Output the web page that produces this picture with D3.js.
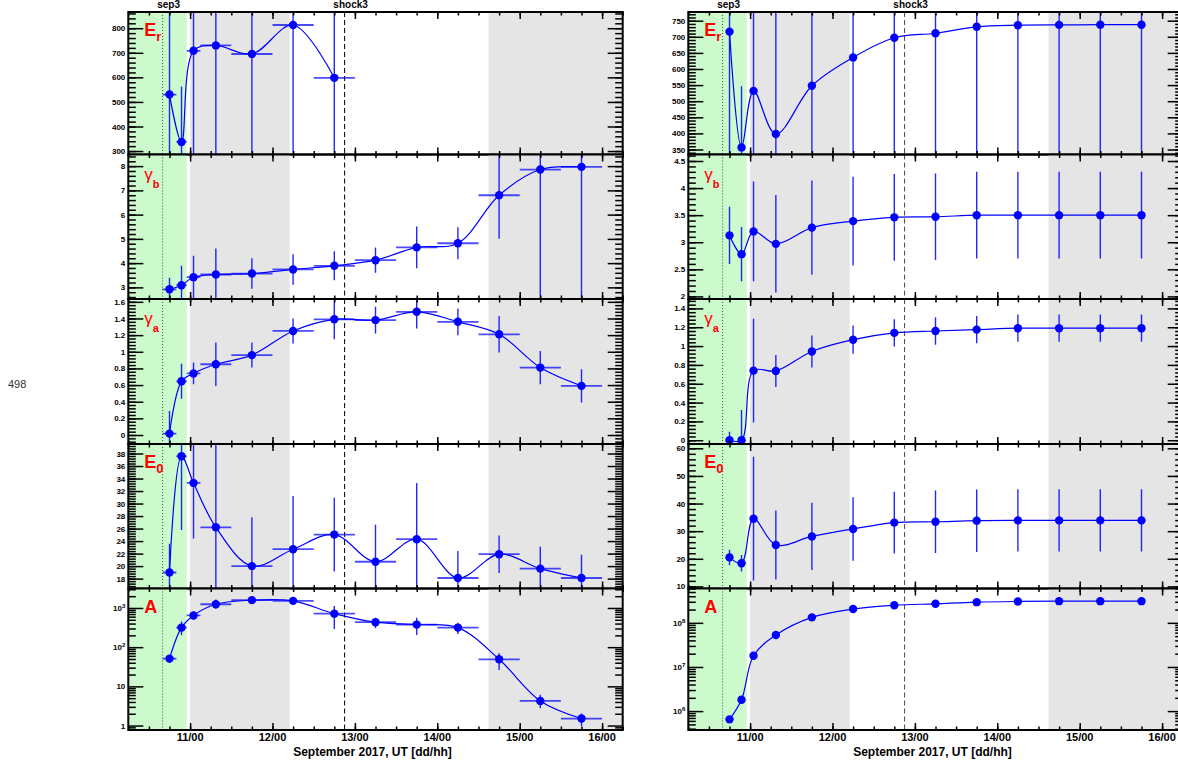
<!DOCTYPE html>
<html>
<head>
<meta charset="utf-8">
<script src="https://cdn.jsdelivr.net/npm/d3@7"></script>
<style>
  body { margin: 0; background: #fff; }
  svg { display: block; }
  text { font-family: "Liberation Sans", Arial, Helvetica, sans-serif; }
</style>
</head>
<body>
<div id="chart"></div>
<script>
// time bins, hours since 2017-09-10 00:00 UT
var binLo  = [16, 20, 23, 27, 36, 48, 60, 72, 84, 96, 108, 120, 132];
var binHi  = [20, 23, 27, 36, 48, 60, 72, 84, 96, 108, 120, 132, 144];
var binMid = [18, 21.5, 25, 31.5, 42, 54, 66, 78, 90, 102, 114, 126, 138];

// marked intervals / events (hours)
var greenSpan = [6, 23];
var graySpans = [[24, 53], [110.9, 150]];
var eventNames = ["sep3", "shock3"];
var eventHours = [16, 69];
var xRange = [6, 150];

// left column values
var erLeft    = [530, 337, 708, 730, 695, 813, 598];
var erLeftErr = [900, 226, 900, 900, 900, 900, 900];
var gbLeft    = [2.92, 3.09, 3.42, 3.53, 3.57, 3.74, 3.89, 4.12, 4.65, 4.82, 6.8, 7.86, 7.97];
var gbLeftErr = [0.48, 0.8, 0.88, 1.07, 0.63, 0.63, 0.6, 0.52, 0.86, 0.66, 1.8, 6, 6];
var gaLeft    = [0.017, 0.645, 0.74, 0.85, 0.96, 1.25, 1.39, 1.38, 1.48, 1.36, 1.21, 0.81, 0.59];
var gaLeftErr = [0.27, 0.21, 0.13, 0.26, 0.15, 0.15, 0.24, 0.16, 0.2, 0.16, 0.22, 0.2, 0.2];
var e0Left    = [18.98, 37.57, 33.3, 26.2, 20.0, 22.7, 25.04, 20.7, 24.3, 18.1, 21.9, 19.6, 18.1];
var e0LeftErr = [4.6, 11.8, 8.9, 14, 7.8, 8.5, 5.9, 5.9, 9, 4.3, 3, 3.5, 3.7];
var aLeft     = [51, 316, 646, 1243, 1585, 1520, 716, 434, 377, 316, 49, 4.25, 1.51];
var aLeftLo   = [40, 205, 500, 950, 1350, 1300, 290, 303, 205, 217, 26, 2.75, 0.98];
var aLeftHi   = [62, 453, 800, 1650, 1850, 1800, 1120, 562, 562, 417, 70, 6.1, 2.04];

// right column values
var erRight    = [716, 356.5, 532, 398, 548, 636, 697, 711, 731, 736, 737, 737.5, 737.5];
var erRightErr = [900, 190, 900, 900, 900, 900, 900, 900, 900, 900, 900, 900, 900];
var gbRight    = [3.127, 2.78, 3.2, 2.97, 3.27, 3.39, 3.46, 3.47, 3.5, 3.5, 3.5, 3.5, 3.5];
var gbRightErr = [0.53, 0.5, 0.92, 0.9, 0.87, 0.82, 0.8, 0.8, 0.8, 0.8, 0.8, 0.8, 0.8];
var gaRight    = [0, 0, 0.739, 0.735, 0.943, 1.068, 1.14, 1.16, 1.175, 1.19, 1.19, 1.19, 1.19];
var gaRightErr = [0.09, 0.32, 0.55, 0.17, 0.17, 0.15, 0.145, 0.145, 0.145, 0.145, 0.145, 0.145, 0.145];
var e0Right    = [20.5, 18.4, 34.5, 25.0, 28.1, 30.8, 33.1, 33.4, 33.8, 33.9, 33.9, 33.9, 33.9];
var e0RightErr = [2.8, 3, 22.4, 12.5, 12.2, 11.5, 11.2, 11.3, 11.3, 11.3, 11.3, 11.3, 11.3];
var aRight     = [6.5e5, 1.81e6, 1.79e7, 5.3e7, 1.33e8, 2.06e8, 2.5e8, 2.7e8, 2.94e8, 3.05e8, 3.1e8, 3.1e8, 3.1e8];

// axis ranges and tick labels
var erLeftDomain = [286, 866],   erLeftTicks = [300, 400, 500, 600, 700, 800];
var gbLeftDomain = [2.52, 8.48], gbLeftTicks = [3, 4, 5, 6, 7, 8];
var gaLeftDomain = [-0.108, 1.634], gaLeftTicks = [0, 0.2, 0.4, 0.6, 0.8, 1, 1.2, 1.4, 1.6];
var e0LeftDomain = [16.42, 39.52], e0LeftTicks = [18, 20, 22, 24, 26, 28, 30, 32, 34, 36, 38];
var aLeftDomain  = [0.77, 3140],  aLeftTicks = [1, 10, 100, 1000];

var erRightDomain = [334.5, 777],  erRightTicks = [350, 400, 450, 500, 550, 600, 650, 700, 750];
var gbRightDomain = [1.952, 4.62], gbRightTicks = [2, 2.5, 3, 3.5, 4, 4.5];
var gaRightDomain = [-0.04, 1.5],  gaRightTicks = [0, 0.2, 0.4, 0.6, 0.8, 1, 1.2, 1.4];
var e0RightDomain = [9.24, 61.56], e0RightTicks = [10, 20, 30, 40, 50, 60];
var aRightDomain  = [3.73e5, 6.0e8], aRightTicks = [1e6, 1e7, 1e8];

var xTitle = "September 2017, UT [dd/hh]";

// ---- layout ----
var W = 1178, H = 761;
var rowEdges = [12, 154.5, 299, 444, 588.5, 730];
var colX = [128.3, 688.3], colW = 494.4;
var blue = "#0000ff";

var svg = d3.select("#chart").append("svg").attr("width", W).attr("height", H);
var defs = svg.append("defs");

function toDate(h) { return new Date(Date.UTC(2017, 8, 10) + h * 3600e3); }

function sym(v, e) {
    return { lo: v.map((d, i) => d - e[i]), hi: v.map((d, i) => d + e[i]) };
}

var columns = [
    { xerr: true, panels: [
        { name: "E", sub: "r", v: erLeft, err: sym(erLeft, erLeftErr), dom: erLeftDomain, ticks: erLeftTicks, lab: "E" },
        { name: "\u03b3", sub: "b", v: gbLeft, err: sym(gbLeft, gbLeftErr), dom: gbLeftDomain, ticks: gbLeftTicks, lab: "g" },
        { name: "\u03b3", sub: "a", v: gaLeft, err: sym(gaLeft, gaLeftErr), dom: gaLeftDomain, ticks: gaLeftTicks, lab: "g" },
        { name: "E", sub: "0", v: e0Left, err: sym(e0Left, e0LeftErr), dom: e0LeftDomain, ticks: e0LeftTicks, lab: "E" },
        { name: "A", v: aLeft, err: { lo: aLeftLo, hi: aLeftHi }, dom: aLeftDomain, ticks: aLeftTicks, log: true, lab: "A" }
    ]},
    { xerr: false, panels: [
        { name: "E", sub: "r", v: erRight, err: sym(erRight, erRightErr), dom: erRightDomain, ticks: erRightTicks, lab: "E" },
        { name: "\u03b3", sub: "b", v: gbRight, err: sym(gbRight, gbRightErr), dom: gbRightDomain, ticks: gbRightTicks, lab: "g" },
        { name: "\u03b3", sub: "a", v: gaRight, err: sym(gaRight, gaRightErr), dom: gaRightDomain, ticks: gaRightTicks, lab: "g" },
        { name: "E", sub: "0", v: e0Right, err: sym(e0Right, e0RightErr), dom: e0RightDomain, ticks: e0RightTicks, lab: "E" },
        { name: "A", v: aRight, err: null, dom: aRightDomain, ticks: aRightTicks, log: true, lab: "A" }
    ]}
];

function minorTicks(p) {
    var out = [];
    if (p.log) {
        var k0 = Math.floor(Math.log10(p.dom[0])), k1 = Math.ceil(Math.log10(p.dom[1]));
        for (var k = k0; k <= k1; k++)
            for (var m = 2; m <= 9; m++) {
                var v = m * Math.pow(10, k);
                if (v >= p.dom[0] && v <= p.dom[1]) out.push(v);
            }
        return out;
    }
    var step = (p.ticks[1] - p.ticks[0]) / 5;
    var start = p.ticks[0] - Math.floor((p.ticks[0] - p.dom[0]) / step) * step;
    for (var t = start; t <= p.dom[1] + 1e-9; t += step) out.push(+t.toFixed(6));
    return out;
}

function styleAxis(sel, labels) {
    sel.select(".domain").remove();
    sel.selectAll("line").attr("stroke", "#000").attr("stroke-width", 1.5);
    if (!labels) sel.selectAll("text").remove();
}

columns.forEach(function (col, ci) {
    var x0 = colX[ci], x1 = x0 + colW;
    var x = d3.scaleUtc().domain([toDate(xRange[0]), toDate(xRange[1])]).range([x0, x1]);
    var dayTicks = d3.utcDay.range(toDate(xRange[0]), toDate(xRange[1]));
    var hourTicks = d3.utcHour.every(6).range(toDate(xRange[0]), toDate(xRange[1] + 0.01));
    var dayFmt = d3.utcFormat("%d/%H");

    col.panels.forEach(function (p, pi) {
        var top = rowEdges[pi], bottom = rowEdges[pi + 1];
        var g = svg.append("g");
        var y = (p.log ? d3.scaleLog() : d3.scaleLinear()).domain(p.dom).range([bottom, top]);
        var clipId = "clip-" + ci + "-" + pi;
        defs.append("clipPath").attr("id", clipId).append("rect")
            .attr("x", x0).attr("y", top).attr("width", x1 - x0).attr("height", bottom - top);

        var plot = g.append("g").attr("clip-path", "url(#" + clipId + ")");

        // shaded intervals
        plot.append("rect")
            .attr("x", x(toDate(greenSpan[0]))).attr("y", top)
            .attr("width", x(toDate(greenSpan[1])) - x(toDate(greenSpan[0])))
            .attr("height", bottom - top).attr("fill", "#ccfacc");
        graySpans.forEach(function (s) {
            plot.append("rect")
                .attr("x", x(toDate(s[0]))).attr("y", top)
                .attr("width", x(toDate(s[1])) - x(toDate(s[0])))
                .attr("height", bottom - top).attr("fill", "#e5e5e5");
        });

        // event lines
        eventHours.forEach(function (h, ei) {
            plot.append("line")
                .attr("x1", x(toDate(h))).attr("x2", x(toDate(h)))
                .attr("y1", top).attr("y2", bottom)
                .attr("stroke", ei === 0 ? "#2d5a2d" : (ci === 0 ? "#000" : "#444"))
                .attr("stroke-width", 1)
                .attr("stroke-dasharray", ei === 0 ? "1,2" : "5,3");
        });

        var pts = p.v.map(function (v, i) { return { h: binMid[i], v: v, i: i }; });

        // error bars
        if (p.err) {
            plot.selectAll(".ey").data(pts).enter().append("line")
                .attr("x1", d => x(toDate(d.h))).attr("x2", d => x(toDate(d.h)))
                .attr("y1", d => y(p.err.lo[d.i] > 0 || !p.log ? p.err.lo[d.i] : p.dom[0] / 10))
                .attr("y2", d => y(p.err.hi[d.i]))
                .attr("stroke", blue).attr("stroke-width", 1.4).attr("stroke-opacity", 0.85);
        }
        if (col.xerr) {
            plot.selectAll(".ex").data(pts).enter().append("line")
                .attr("x1", d => x(toDate(binLo[d.i]))).attr("x2", d => x(toDate(binHi[d.i])))
                .attr("y1", d => y(d.v)).attr("y2", d => y(d.v))
                .attr("stroke", blue).attr("stroke-width", 1.8).attr("stroke-opacity", 0.7);
        }

        // smooth curve through points
        var line = d3.line()
            .x(d => x(toDate(d.h)))
            .y(d => y(d.v))
            .curve(d3.curveCatmullRom.alpha(0.5));
        plot.append("path").datum(pts).attr("d", line)
            .attr("fill", "none").attr("stroke", blue).attr("stroke-width", 1.2);

        // markers
        g.selectAll(".pt").data(pts.filter(d => d.v >= p.dom[0] && d.v <= p.dom[1])).enter()
            .append("circle")
            .attr("cx", d => x(toDate(d.h))).attr("cy", d => y(d.v)).attr("r", 4.2)
            .attr("fill", blue);

        // frame
        g.append("rect").attr("x", x0).attr("y", top).attr("width", x1 - x0).attr("height", bottom - top)
            .attr("fill", "none").attr("stroke", "#000").attr("stroke-width", 2);

        // y axes (ticks inside frame)
        var fmt = p.log ? (d => "") : (d => String(+d.toFixed(2)));
        var yl = g.append("g").attr("transform", "translate(" + x0 + ",0)")
            .call(d3.axisLeft(y).tickValues(p.ticks).tickSize(-15).tickPadding(3).tickFormat(fmt));
        styleAxis(yl, true);
        yl.selectAll("text").attr("font-size", 8).attr("font-weight", "bold").attr("fill", "#000");
        if (p.log) {
            yl.selectAll(".tick text").each(function (d) {
                var t = d3.select(this);
                var k = Math.round(Math.log10(d));
                if (k < 2) { t.text(k === 0 ? "1" : "10"); return; }
                t.append("tspan").text("10");
                t.append("tspan").attr("dy", "-0.5em").attr("font-size", 6).text(k);
            });
        }
        styleAxis(g.append("g").attr("transform", "translate(" + x0 + ",0)")
            .call(d3.axisLeft(y).tickValues(minorTicks(p)).tickSize(-7.5).tickFormat("")), false);
        styleAxis(g.append("g").attr("transform", "translate(" + x1 + ",0)")
            .call(d3.axisRight(y).tickValues(p.ticks).tickSize(-15).tickFormat("")), false);
        styleAxis(g.append("g").attr("transform", "translate(" + x1 + ",0)")
            .call(d3.axisRight(y).tickValues(minorTicks(p)).tickSize(-7.5).tickFormat("")), false);

        // x axes (top and bottom of each panel)
        styleAxis(g.append("g").attr("transform", "translate(0," + top + ")")
            .call(d3.axisTop(x).tickValues(dayTicks).tickSize(-7).tickFormat("")), false);
        styleAxis(g.append("g").attr("transform", "translate(0," + top + ")")
            .call(d3.axisTop(x).tickValues(hourTicks).tickSize(-3.5).tickFormat("")), false);
        styleAxis(g.append("g").attr("transform", "translate(0," + bottom + ")")
            .call(d3.axisBottom(x).tickValues(hourTicks).tickSize(-3.5).tickFormat("")), false);
        styleAxis(g.append("g").attr("transform", "translate(0," + bottom + ")")
            .call(d3.axisBottom(x).tickValues(dayTicks).tickSize(-7).tickFormat("")), false);

        // panel label
        var lab;
        if (p.lab === "g") {
            lab = g.append("text").attr("x", x0 + 16).attr("y", top + 25)
                .attr("fill", "#ff0000").attr("font-size", 17)
                .attr("font-family", "'DejaVu Sans', sans-serif")
                .text(p.name);
            lab.append("tspan").attr("font-size", 11).attr("font-weight", "bold")
                .attr("font-family", "'Liberation Sans', Arial, sans-serif")
                .attr("dy", 8).text(p.sub);
        } else {
            lab = g.append("text").attr("x", x0 + 16).attr("y", top + 24)
                .attr("fill", "#ff0000").attr("font-size", 18).attr("font-weight", "bold")
                .text(p.name);
            if (p.sub) lab.append("tspan").attr("font-size", 13).attr("dy", 5).text(p.sub);
        }

        if (pi === col.panels.length - 1) {
            // day labels under the bottom panel
            svg.append("g").selectAll("text").data(dayTicks).enter().append("text")
                .attr("x", d => x(d)).attr("y", bottom + 11)
                .attr("text-anchor", "middle").attr("font-size", 11).attr("font-weight", "bold")
                .attr("fill", "#000")
                .text(d => dayFmt(d));
            svg.append("text").attr("x", (x0 + x1) / 2 - 3).attr("y", 756)
                .attr("text-anchor", "middle").attr("font-size", 12).attr("font-weight", "bold")
                .text(xTitle);
        }
    });

    // event names above the top frame
    eventHours.forEach(function (h, ei) {
        svg.append("text").attr("x", x(toDate(h)) + 6).attr("y", 8)
            .attr("text-anchor", "middle").attr("font-size", 10).attr("font-weight", "bold")
            .text(eventNames[ei]);
    });
});

svg.append("text").attr("x", 8).attr("y", 388).attr("font-size", 11).attr("fill", "#333").text("498");
</script>
</body>
</html>
